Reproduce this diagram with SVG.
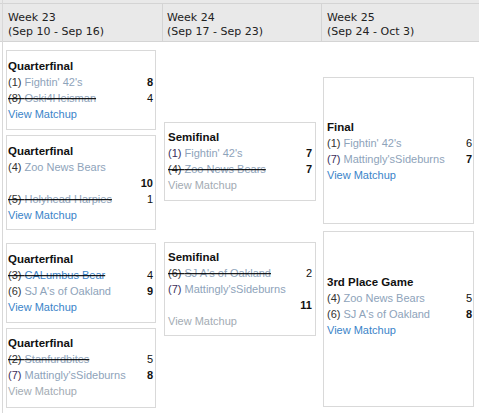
<svg xmlns="http://www.w3.org/2000/svg" width="479" height="413" viewBox="0 0 479 413">
<style>
.hdr{font-family:"DejaVu Sans",Verdana,sans-serif;font-size:11px;fill:#222}
.box{fill:#fff;stroke:#d9d9d9;stroke-width:1}
.t{font-family:"Liberation Sans",Arial,sans-serif;font-size:11px}
.title{font-weight:bold;font-size:11.5px;fill:#111}
.seed{fill:#333}
.seedp{fill:#3b2f5a}
.team{fill:#8ea3ba}
.vm{fill:#3a84c9}
.vmg{fill:#a3abb3}
.sc{fill:#111;font-weight:bold;text-anchor:end}
.scn{fill:#111;text-anchor:end}
.lost{text-decoration:line-through;fill:#000}
</style>
<rect x="0" y="0" width="479" height="413" fill="#fff"/>
<g id="header">
<rect x="0" y="0" width="479" height="42" fill="#e9e9e9"/>
<line x1="0" y1="3.5" x2="479" y2="3.5" stroke="#d4d4d4"/>
<line x1="0" y1="41.5" x2="479" y2="41.5" stroke="#d4d4d4"/>
<line x1="162.5" y1="4" x2="162.5" y2="41" stroke="#d4d4d4"/>
<line x1="321.5" y1="4" x2="321.5" y2="41" stroke="#d4d4d4"/>
<text class="hdr" x="8" y="21">Week 23</text>
<text class="hdr" x="8" y="35">(Sep 10 - Sep 16)</text>
<text class="hdr" x="167" y="21">Week 24</text>
<text class="hdr" x="167" y="35">(Sep 17 - Sep 23)</text>
<text class="hdr" x="327" y="21">Week 25</text>
<text class="hdr" x="327" y="35">(Sep 24 - Oct 3)</text>
</g>
<line x1="2.5" y1="0" x2="2.5" y2="413" stroke="#d8d8d8"/>
<g id="qf1">
<rect class="box" x="6.5" y="50.5" width="149" height="79"/>
<text class="t title" x="8" y="70">Quarterfinal</text>
<text class="t" x="8" y="86"><tspan class="seed">(1) </tspan><tspan class="team">Fightin' 42's</tspan></text>
<text class="t sc" x="153" y="86">8</text>
<text class="t lost" x="8" y="102"><tspan class="seed">(8) </tspan><tspan class="team">Oski4Heisman</tspan></text>
<text class="t scn" x="153" y="102">4</text>
<text class="t vm" x="8" y="118">View Matchup</text>
</g>
<g id="qf2">
<rect class="box" x="6.5" y="135.5" width="149" height="94"/>
<text class="t title" x="8" y="155">Quarterfinal</text>
<text class="t" x="8" y="171"><tspan class="seed">(4) </tspan><tspan class="team">Zoo News Bears</tspan></text>
<text class="t sc" x="153" y="187">10</text>
<text class="t lost" x="8" y="203"><tspan class="seed">(5) </tspan><tspan class="team">Holyhead Harpies</tspan></text>
<text class="t scn" x="153" y="203">1</text>
<text class="t vm" x="8" y="219">View Matchup</text>
</g>
<g id="qf3">
<rect class="box" x="6.5" y="243.5" width="149" height="79"/>
<text class="t title" x="8" y="263">Quarterfinal</text>
<text class="t lost" x="8" y="279"><tspan class="seed">(3) </tspan><tspan class="vm">CALumbus Bear</tspan></text>
<text class="t scn" x="153" y="279">4</text>
<text class="t" x="8" y="295"><tspan class="seed">(6) </tspan><tspan class="team">SJ A's of Oakland</tspan></text>
<text class="t sc" x="153" y="295">9</text>
<text class="t vm" x="8" y="311">View Matchup</text>
</g>
<g id="qf4">
<rect class="box" x="6.5" y="328.5" width="149" height="79"/>
<text class="t title" x="8" y="347">Quarterfinal</text>
<text class="t lost" x="8" y="363"><tspan class="seed">(2) </tspan><tspan class="team">Stanfurdbites</tspan></text>
<text class="t scn" x="153" y="363">5</text>
<text class="t" x="8" y="379"><tspan class="seedp">(7) </tspan><tspan class="team">Mattingly'sSideburns</tspan></text>
<text class="t sc" x="153" y="379">8</text>
<text class="t vmg" x="8" y="395">View Matchup</text>
</g>
<g id="sf1">
<rect class="box" x="164.5" y="122.5" width="151" height="78"/>
<text class="t title" x="168" y="141">Semifinal</text>
<text class="t" x="168" y="157"><tspan class="seedp">(1) </tspan><tspan class="team">Fightin' 42's</tspan></text>
<text class="t sc" x="312" y="157">7</text>
<text class="t lost" x="168" y="173"><tspan class="seed">(4) </tspan><tspan class="team">Zoo News Bears</tspan></text>
<text class="t sc" x="312" y="173">7</text>
<text class="t vmg" x="168" y="189">View Matchup</text>
</g>
<g id="sf2">
<rect class="box" x="164.5" y="242.5" width="151" height="93"/>
<text class="t title" x="168" y="261">Semifinal</text>
<text class="t lost" x="168" y="277"><tspan class="seed">(6) </tspan><tspan class="team">SJ A's of Oakland</tspan></text>
<text class="t scn" x="312" y="277">2</text>
<text class="t" x="168" y="293"><tspan class="seedp">(7) </tspan><tspan class="team">Mattingly'sSideburns</tspan></text>
<text class="t sc" x="312" y="309">11</text>
<text class="t vmg" x="168" y="325">View Matchup</text>
</g>
<g id="final">
<rect class="box" x="323.5" y="77.5" width="150" height="146"/>
<text class="t title" x="327" y="131">Final</text>
<text class="t" x="327" y="147"><tspan class="seed">(1) </tspan><tspan class="team">Fightin' 42's</tspan></text>
<text class="t scn" x="472" y="147">6</text>
<text class="t" x="327" y="163"><tspan class="seedp">(7) </tspan><tspan class="team">Mattingly'sSideburns</tspan></text>
<text class="t sc" x="472" y="163">7</text>
<text class="t vm" x="327" y="179">View Matchup</text>
</g>
<g id="third">
<rect class="box" x="323.5" y="231.5" width="150" height="175"/>
<text class="t title" x="327" y="286">3rd Place Game</text>
<text class="t" x="327" y="302"><tspan class="seed">(4) </tspan><tspan class="team">Zoo News Bears</tspan></text>
<text class="t scn" x="472" y="302">5</text>
<text class="t" x="327" y="318"><tspan class="seed">(6) </tspan><tspan class="team">SJ A's of Oakland</tspan></text>
<text class="t sc" x="472" y="318">8</text>
<text class="t vm" x="327" y="334">View Matchup</text>
</g>
</svg>
